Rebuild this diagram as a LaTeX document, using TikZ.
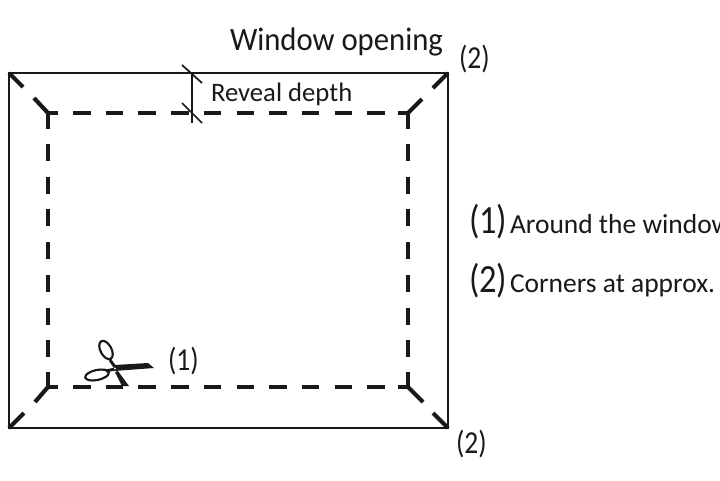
\documentclass[tikz,border=0pt]{standalone}
\usepackage{fontspec}
\setmainfont{Carlito}
\newfontfamily\titlef[FakeStretch=0.94]{Carlito}
\newfontfamily\narrowf[FakeStretch=0.86]{Carlito}
\tikzset{
  outerline/.style={line width=1.9pt,black!90},
  cutline/.style={line width=3.1pt,black!90},
  tickline/.style={line width=1.3pt,black!90},
  lbl/.style={anchor=base west,inner sep=0pt,outer sep=0pt,text=black!90},
  big/.style={font=\titlef\fontsize{24.5}{26}\selectfont},
  mid/.style={font=\fontsize{20}{22}\selectfont},
  paren/.style={font=\narrowf\fontsize{24}{26}\selectfont},
  parenbig/.style={font=\narrowf\fontsize{30}{32}\selectfont},
  small/.style={font=\fontsize{20.6}{22}\selectfont},
}
\begin{document}
\begin{tikzpicture}[x=0.75pt,y=-0.75pt]
\useasboundingbox (0,0) rectangle (720,480);
\fill[white] (0,0) rectangle (720,480);
% corners
\coordinate (tl) at (9,73);
\coordinate (tr) at (448,73);
\coordinate (br) at (448,428);
\coordinate (bl) at (9,428);
\coordinate (itl) at (48,113);
\coordinate (itr) at (408,113);
\coordinate (ibr) at (408,387);
\coordinate (ibl) at (48,387);
\draw[outerline,line join=miter] (tl) -- (tr) -- (br) -- (bl) -- cycle;
% diagonals
\draw[cutline] (tl) -- (23,87) (34,98) -- (itl);
\draw[cutline] (tr) -- (433,88) (422,99) -- (itr);
\draw[cutline] (bl) -- (24,413) (35,402) -- (ibl);
\draw[cutline] (br) -- (433,413) (423,402) -- (ibr);
% dashes
\draw[cutline] (58,113) -- (itl) -- (48,129);
\draw[cutline] (398,113) -- (itr) -- (408,129);
\draw[cutline] (58,387) -- (ibl) -- (48,372);
\draw[cutline] (398,387) -- (ibr) -- (408,372);
\foreach \i in {0,...,9} {
  \draw[cutline] ({73+32.7*\i},113) -- ({90.5+32.7*\i},113);
  \draw[cutline] ({73+32.7*\i},387) -- ({90.5+32.7*\i},387);
}
\foreach \i in {0,...,6} {
  \draw[cutline] (48,{144+32.7*\i}) -- (48,{161+32.7*\i});
  \draw[cutline] (408,{144+32.7*\i}) -- (408,{161+32.7*\i});
}
% reveal depth
\draw[tickline] (192,73) -- (192,123);
\draw[tickline] (182,65) -- (202,83);
\draw[tickline] (182,103) -- (202,123);
% scissors
\fill[black!90] (115,365) -- (148,363) -- (154,368) -- (114,371) -- cycle;
\fill[black!90] (115,372) -- (118,371) -- (129,386) -- (122,386) -- cycle;
\draw[line width=1.6pt,black!90,rotate around={28:(106,350)}] (106,350) ellipse (5.5 and 10);
\draw[line width=1.6pt,black!90,rotate around={12:(97,375)}] (97,375) ellipse (12 and 5);
\draw[line width=2.2pt,black!90] (110,360) -- (115,367);
\draw[line width=2.2pt,black!90] (106,371) -- (115,369);
\fill[white] (115,368.5) circle (1);
% labels
\node[lbl,big] (title) at (230,50) {Window opening};
\node[lbl,paren] (c1) at (459,68) {(2)};
\node[lbl,mid] (reveal) at (211,101) {Reveal depth};
\node[lbl,parenbig] (n1) at (469,233) {(1)};
\node[lbl,small] (t1) at (510,233) {Around the window};
\node[lbl,parenbig] (n2) at (469,292) {(2)};
\node[lbl,small] (t2) at (510,292) {Corners at approx.};
\node[lbl,paren] (s1) at (168,370) {(1)};
\node[lbl,paren] (c2) at (456,453) {(2)};
\end{tikzpicture}
\end{document}
